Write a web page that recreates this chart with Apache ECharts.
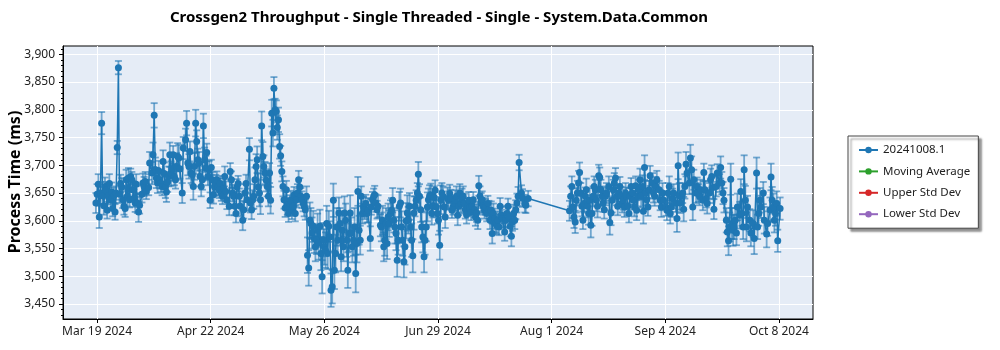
<!DOCTYPE html>
<html><head><meta charset="utf-8">
<script src="https://cdn.jsdelivr.net/npm/echarts@6/dist/echarts.min.js"></script>
<style>html,body{margin:0;padding:0;background:#fff}#c{width:1000px;height:350px}</style>
</head><body><div id="c"></div>
<script>
const chartTitle = 'Crossgen2 Throughput - Single Threaded - Single - System.Data.Common';
const yAxisTitle = 'Process Time (ms)';
const seriesNames = ['20241008.1', 'Moving Average', 'Upper Std Dev', 'Lower Std Dev'];
const seriesColors = ['#1f77b4', '#2ca02c', '#d62728', '#9467bd'];
const firstDate = '2024-03-19T13:00:00Z';
const xTickLabels = ['Mar 19 2024', 'Apr 22 2024', 'May 26 2024', 'Jun 29 2024', 'Aug 1 2024', 'Sep 4 2024', 'Oct 8 2024'];
const yTicks = [3450, 3500, 3550, 3600, 3650, 3700, 3750, 3800, 3850, 3900];

// measurements per day (index = days after firstDate)
const dailyValues = [
  [3632,3648,3666],[3607,3650,3776],[3645,3627,3662],[3655,3619,3645],[3667,3638,3652],[3622,3646,3616],[3650,3732,3876],[3648,3667,3661],[3638,3626,3622],[3674,3644,3677],
  [3638,3680,3674],[3656,3641,3632],[3666,3632,3616],[3628,3648],[3668,3662,3671],[3653,3660],[3704,3686],[3719,3790,3692],[3677,3668,3690],[3674,3668,3662],
  [3707,3685,3661],[3652,3670,3680],[3719,3685,3694],[3719,3680,3674],[3698,3716,3713],[3694,3650],[3731,3746],[3776,3704,3698],[3725,3686,3683],[3662,3698,3776],
  [3743,3710,3704],[3680,3662,3674],[3771,3710,3695],[3723,3680,3692],[3637,3696,3674],[3647,3661,3667],[3674,3661,3656],[3667,3650,3644],[3658,3680,3653],[3637,3626],
  [3689,3674,3650],[3644,3626,3613],[3661,3667,3644],[3626,3601],[3620,3650,3667],[3638,3729],[3632,3620,3638],[3644,3674,3698],[3710,3661,3650],[3638,3771,3716],
  [3698,3686,3673],[3662,3644,3686],[3637,3794,3758],[3839,3800,3797],[3768,3782,3734],[3717,3689,3662],[3638,3623,3656],[3626,3613,3631],[3637,3620,3626],[3647,3613,3638],
  [3650,3674,3661],[3644,3638,3632],[3626,3620,3644],[3538,3515,3601],[3595,3578,3590],[3568,3553,3566],[3583,3560,3590],[3541,3499,3566],[3553,3547,3595],[3541,3590,3571],
  [3475,3481,3637],[3511,3541,3589],[3565,3614,3595],[3535,3583,3553],[3614,3601,3565],[3511,3577,3614],[3578,3553,3565],[3589,3505,3559],[3653,3583,3565],[3644,3613,3625],
  [3619,3631,3613],[3619,3568],[3625,3638,3644],[3647,3632,3620],[3626,3592],[3589,3601,3553],[3565,3595,3559],[3607,3595,3613],[3619,3637,3601],[3589,3577,3529],
  [3565,3626,3632],[3589,3565,3526],[3553,3600,3614],[3601,3626,3589],[3565,3537,3614],[3626,3637,3650],[3684,3644,3620],[3589,3571,3535],[3565,3589,3625],[3638,3644,3647],
  [3613,3626,3642],[3655,3625,3613],[3601,3556,3638],[3650,3644,3625],[3607,3640],[3637,3649,3640],[3619,3625,3631],[3637,3644,3610],[3626,3650,3631],[3640,3644,3631],
  [3620,3611,3625],[3637,3625,3616],[3626,3638,3620],[3607,3614,3601],[3663,3644,3632],[3638,3626,3619],[3625,3613,3631],[3620,3601,3619],[3577,3613,3604],[3595,3592,3601],
  [3589,3626,3610],[3604,3580],[3601,3613,3626],[3607,3590,3572],[3598,3613,3601],[3620,3632,3644],[3705,3650],[3641,3631],[3628,3640],
  [],[],[],[],[],[],[],[],[],[],[],[],
  [3618,3644,3662],[3625,3607,3598],[3637,3650,3668],[3687,3650,3626],[3601,3631,3644],[3656,3626,3613],[3637,3592,3613],[3644,3662,3656],[3637,3626,3681],[3678,3656,3644],
  [3632,3620,3644],[3650,3662],[3597,3614,3637],[3656,3668,3677],[3644,3626,3650],[3662,3644,3632],[3638,3625,3650],[3644,3626,3613],[3644,3662,3650],[3637,3625,3663],
  [3619,3644,3656],[3674,3644,3662],[3617,3696,3650],[3638,3625,3656],[3681,3668],[3650,3644,3662],[3674,3656],[3637,3625,3650],[3637,3625],[3619,3650,3662],
  [3613,3625,3640],[3650,3632],[3604,3699,3644],[3632,3650],[3621,3662,3702],[3686,3668],[3713,3692,3625],[3674,3650],[3662,3650,3644],[3656,3637],
  [3687,3656,3640],[3631,3650],[3674,3680,3660],[3621,3662],[3686,3668],[3696,3668,3650],[3637,3601],[3580,3564,3589],[3675,3595,3583],[3589,3601,3578],
  [3625,3610],[3653,3613,3589],[3692,3637,3589],[3625,3601],[3578,3595],[3568,3686],[3589,3613,3637],[3625,3650],[3601,3576],[3595,3620],
  [3679,3637,3625],[3601,3613,3631],[3564,3622]
];

// half-length of the error bar per day (ms)
const dailyErrors = [
  18,20,16,15,17,14,12,16,15,18,
  14,16,18,15,17,14,20,22,18,16,
  20,18,22,16,24,18,20,22,18,24,
  20,18,22,16,14,16,15,14,18,16,
  15,16,14,18,16,20,17,22,24,26,
  20,18,24,20,22,18,16,15,17,14,
  16,15,18,32,28,26,30,30,32,28,
  30,34,28,26,30,32,28,34,26,18,
  16,22,14,16,20,26,28,24,22,30,
  26,28,32,24,30,18,22,28,26,20,
  20,18,26,18,20,16,14,18,16,18,
  16,15,14,16,18,15,14,16,18,16,
  15,16,14,18,16,17,14,16,14,
  null,null,null,null,null,null,null,null,null,null,null,null,
  18,20,22,18,16,20,22,18,20,18,
  16,18,22,18,16,17,18,16,15,17,
  18,20,22,16,18,17,16,18,16,18,
  18,16,24,18,22,20,24,18,16,18,
  16,18,20,18,16,20,22,26,28,22,
  24,22,26,20,24,28,22,20,24,22,
  24,22,20
];

const DAY = 86400000;
const start = Date.parse(firstDate);
const lastDay = dailyValues.length - 1;
const span = lastDay * DAY;
const xMin = start - 0.05 * span, xMax = start + span + 0.05 * span;
const xTickVals = xTickLabels.map((_, k) => start + k * span / (xTickLabels.length - 1));
const yMinor = [];
for (let v = 3430; v <= 3910; v += 10) yMinor.push(v);

const points = [], bars = [];
dailyValues.forEach((vals, d) => {
  const n = vals.length;
  vals.forEach((v, i) => {
    const t = start + (d + (n > 1 ? (i / (n - 1) - 0.5) * 0.7 : 0)) * DAY;
    points.push([t, v]);
    const e = dailyErrors[d];
    bars.push([t, v - e, v + e]);
  });
});

const FONT = '"Noto Sans", "Open Sans", sans-serif';
const chart = echarts.init(document.getElementById('c'), null, {renderer: 'canvas'});
const errStyle = {stroke: 'rgba(31,119,180,0.6)', lineWidth: 1.8, fill: null};

chart.setOption({
  animation: false,
  textStyle: {fontFamily: FONT},
  grid: {left: 63, right: 187, top: 46, bottom: 31, show: true, backgroundColor: '#e5ecf6', borderColor: '#000', borderWidth: 1},
  graphic: [
    {type: 'text', x: 439, y: 18, style: {text: chartTitle, textAlign: 'center', textVerticalAlign: 'middle', font: 'bold 15px ' + FONT, fill: '#000'}},
    {type: 'text', x: 15, y: 182, rotation: Math.PI / 2, style: {text: yAxisTitle, textAlign: 'center', textVerticalAlign: 'middle', font: 'bold 16px ' + FONT, fill: '#000'}}
  ],
  legend: {
    orient: 'vertical', left: 848, top: 136,
    data: seriesNames,
    itemWidth: 19, itemHeight: 8, itemGap: 9.4,
    padding: [8, 8, 8, 10],
    backgroundColor: '#fff', borderColor: '#444', borderWidth: 1,
    shadowColor: 'rgba(0,0,0,0.45)', shadowBlur: 2, shadowOffsetX: 3, shadowOffsetY: 3,
    selectedMode: false,
    textStyle: {fontSize: 11.5, color: '#222', fontFamily: FONT}
  },
  xAxis: {
    type: 'value', min: xMin, max: xMax,
    axisLine: {show: true, onZero: false, lineStyle: {color: '#000', width: 1}},
    axisTick: {show: true, length: 4, customValues: xTickVals, lineStyle: {color: '#000'}},
    axisLabel: {customValues: xTickVals, color: '#222', fontSize: 12, margin: 7,
      formatter: v => { const k = xTickVals.findIndex(t => Math.abs(t - v) < 60000); return k >= 0 ? xTickLabels[k] : ''; }},
    splitLine: {show: true, lineStyle: {color: '#fff', width: 1}}
  },
  yAxis: [
    {
      type: 'value', min: 3423, max: 3915,
      axisLine: {show: true, onZero: false, lineStyle: {color: '#000', width: 1}},
      axisTick: {show: true, length: 4, customValues: yTicks, lineStyle: {color: '#000'}},
      axisLabel: {customValues: yTicks, color: '#222', fontSize: 12, margin: 8, formatter: v => v.toLocaleString('en-US')},
      splitLine: {show: true, lineStyle: {color: '#fff', width: 1}}
    },
    {
      type: 'value', min: 3423, max: 3915, position: 'left',
      axisLine: {show: false},
      axisTick: {show: true, length: 2, customValues: yMinor, lineStyle: {color: '#000'}},
      axisLabel: {show: false}, splitLine: {show: false}
    }
  ],
  series: [
    {
      name: 'errorbars', type: 'custom', xAxisIndex: 0, yAxisIndex: 0, data: bars, clip: true, z: 1,
      encode: {x: 0, y: [1, 2]},
      renderItem: (params, api) => {
        const x = api.value(0);
        const lo = api.coord([x, api.value(1)]);
        const hi = api.coord([x, api.value(2)]);
        const w = 3.5;
        return {type: 'group', children: [
          {type: 'line', shape: {x1: lo[0], y1: lo[1], x2: hi[0], y2: hi[1]}, style: errStyle},
          {type: 'line', shape: {x1: lo[0] - w, y1: lo[1], x2: lo[0] + w, y2: lo[1]}, style: errStyle},
          {type: 'line', shape: {x1: hi[0] - w, y1: hi[1], x2: hi[0] + w, y2: hi[1]}, style: errStyle}
        ]};
      }
    },
    {
      name: seriesNames[0], type: 'line', data: points, z: 3,
      symbol: 'circle', symbolSize: 7, showSymbol: true,
      itemStyle: {color: seriesColors[0]},
      lineStyle: {color: seriesColors[0], width: 1.5}
    },
    ...seriesNames.slice(1).map((nm, i) => ({
      name: nm, type: 'line', data: [], symbol: 'circle', symbolSize: 6,
      itemStyle: {color: seriesColors[i + 1]}, lineStyle: {color: seriesColors[i + 1], width: 1.4}
    }))
  ]
});
</script>
</body></html>
